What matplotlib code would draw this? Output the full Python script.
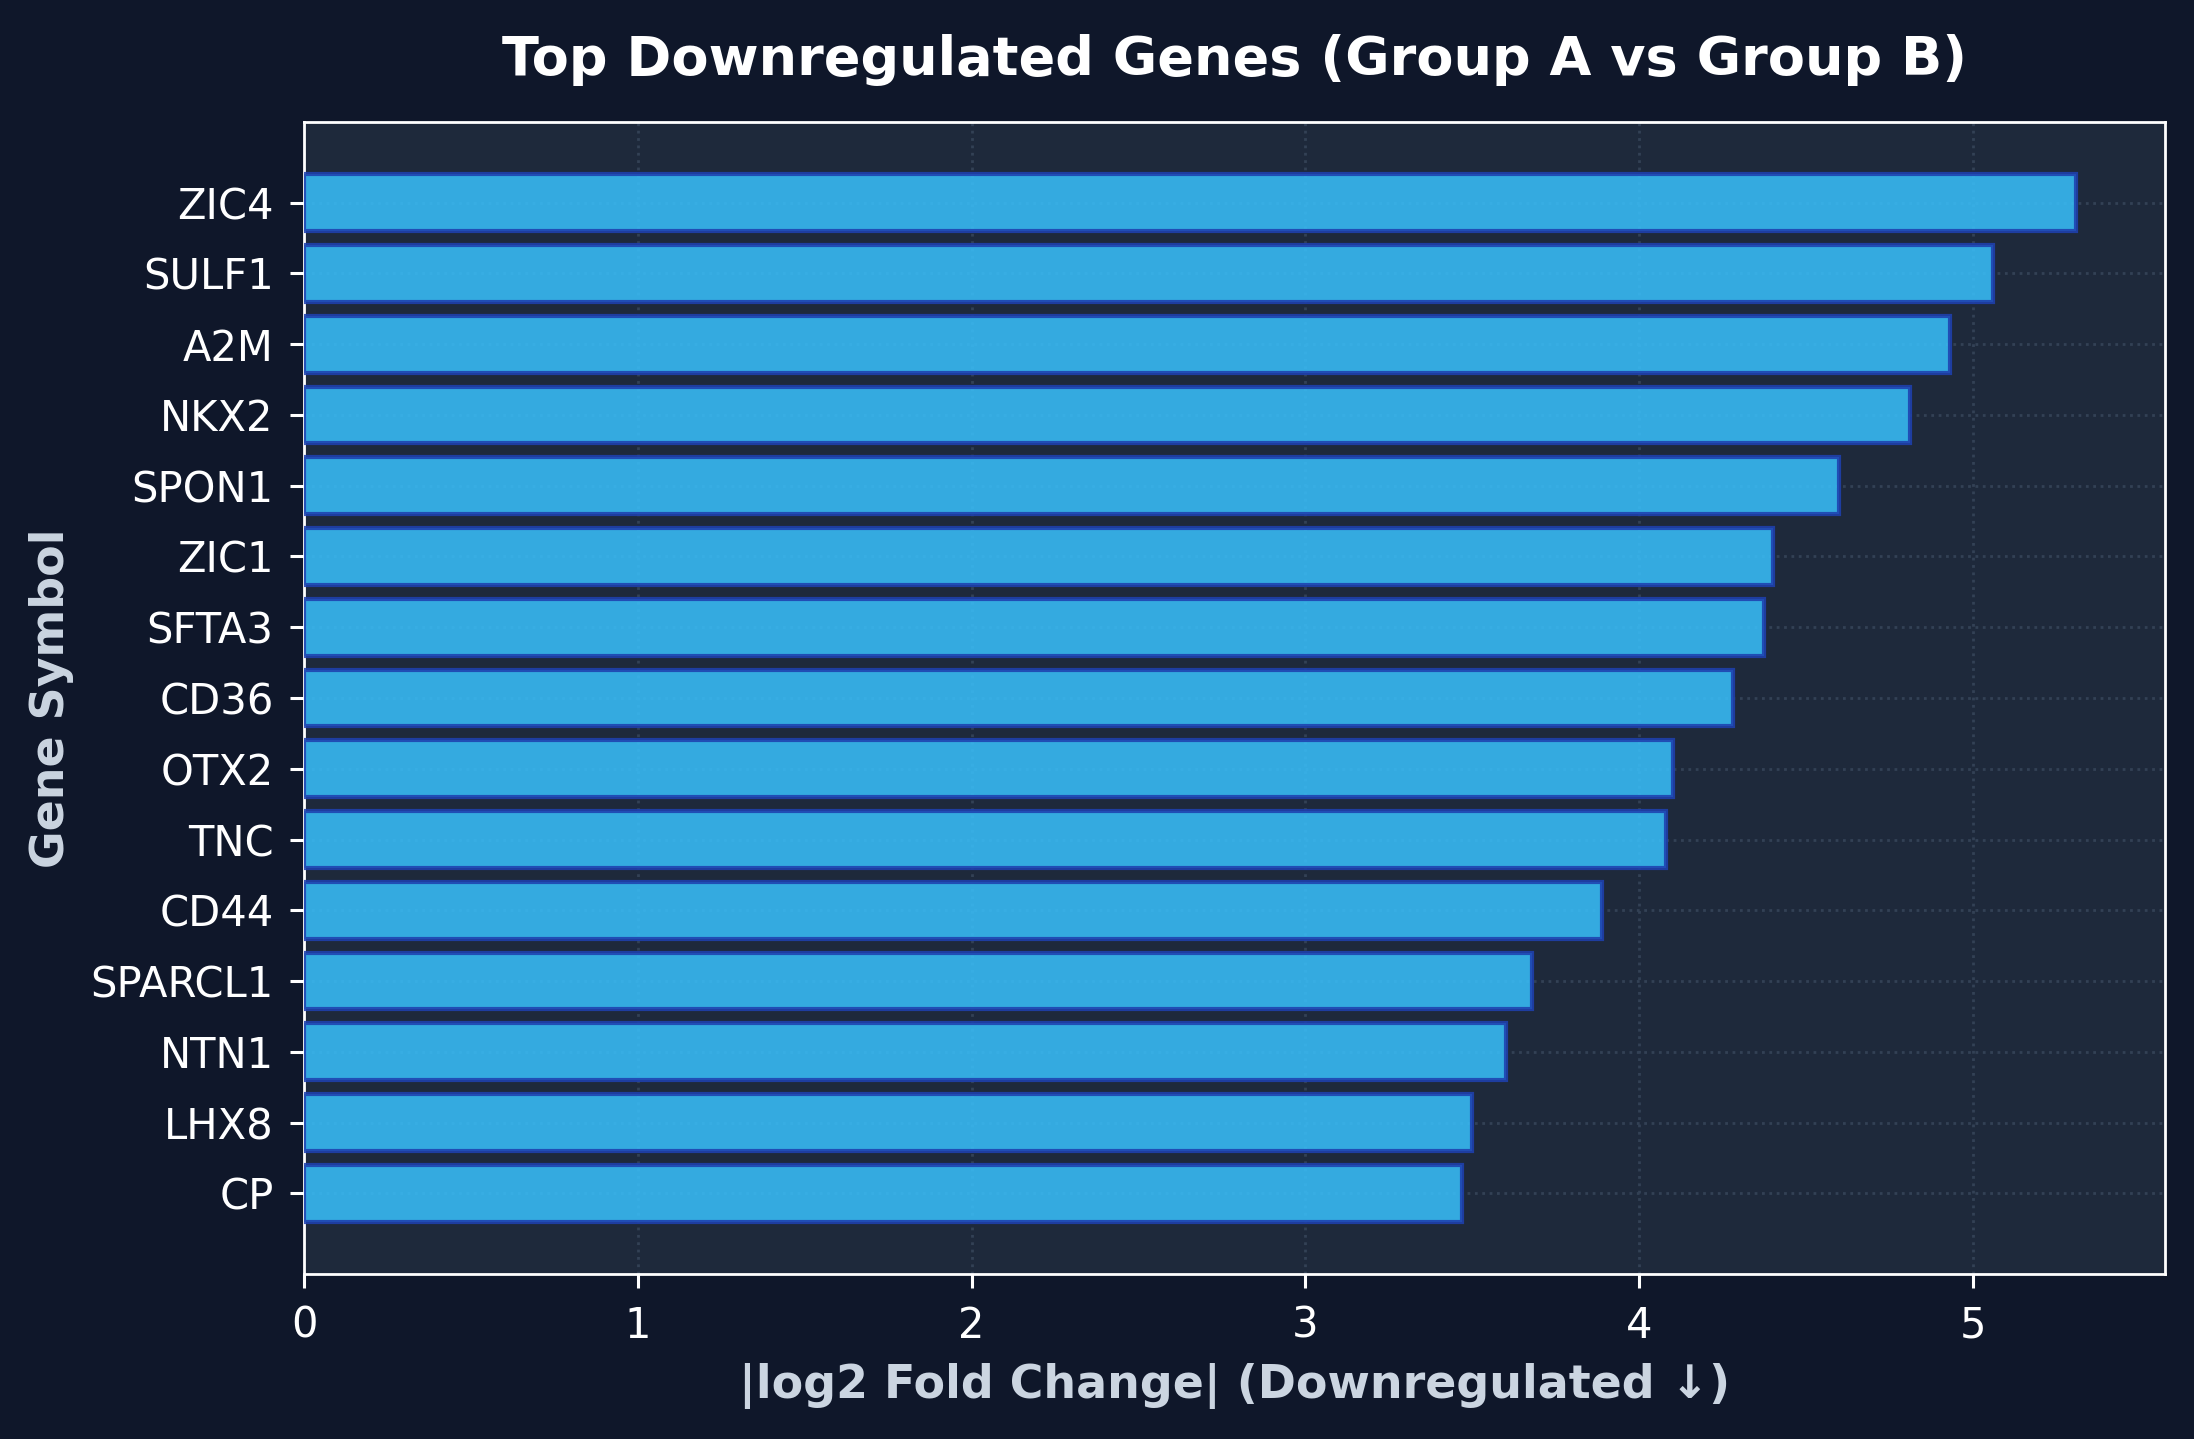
import matplotlib
matplotlib.use("Agg")
import matplotlib.pyplot as plt

# Gene data (top downregulated, absolute log2 fold change)
genes = ["ZIC4", "SULF1", "A2M", "NKX2", "SPON1", "ZIC1", "SFTA3", "CD36",
         "OTX2", "TNC", "CD44", "SPARCL1", "NTN1", "LHX8", "CP"]
abs_lfc = [5.31, 5.06, 4.93, 4.81, 4.60, 4.40, 4.375, 4.28,
           4.10, 4.08, 3.89, 3.68, 3.60, 3.50, 3.47]

fig_bg = "#0f172a"
ax_bg = "#1e293b"

fig, ax = plt.subplots(figsize=(10.97, 7.195), dpi=200)
fig.patch.set_facecolor(fig_bg)
ax.set_facecolor(ax_bg)

# plot in reverse so largest is on top
ax.barh(genes[::-1], abs_lfc[::-1], height=0.8, color="#38bdf8", alpha=0.88,
        edgecolor="#1e40af", linewidth=1.5, zorder=3)

ax.grid(True, linestyle=":", color="#334155", linewidth=1.0, zorder=0)
ax.set_axisbelow(True)

ax.set_title("Top Downregulated Genes (Group A vs Group B)", color="white",
             fontsize=19.5, fontweight="bold", pad=17)
ax.set_xlabel("|log2 Fold Change| (Downregulated \u2193)", color="#cbd5e1",
              fontsize=16.5, fontweight="bold", labelpad=6)
ax.set_ylabel("Gene Symbol", color="#cbd5e1", fontsize=16.5, fontweight="bold", labelpad=6)

ax.tick_params(colors="white", labelsize=15, length=5, width=1.1, pad=6)
for s in ax.spines.values():
    s.set_color("white")
    s.set_linewidth(1.0)

plt.subplots_adjust(left=0.1386, right=0.9868, top=0.9152, bottom=0.1147)
plt.savefig("out.png", dpi=200, facecolor=fig_bg)
